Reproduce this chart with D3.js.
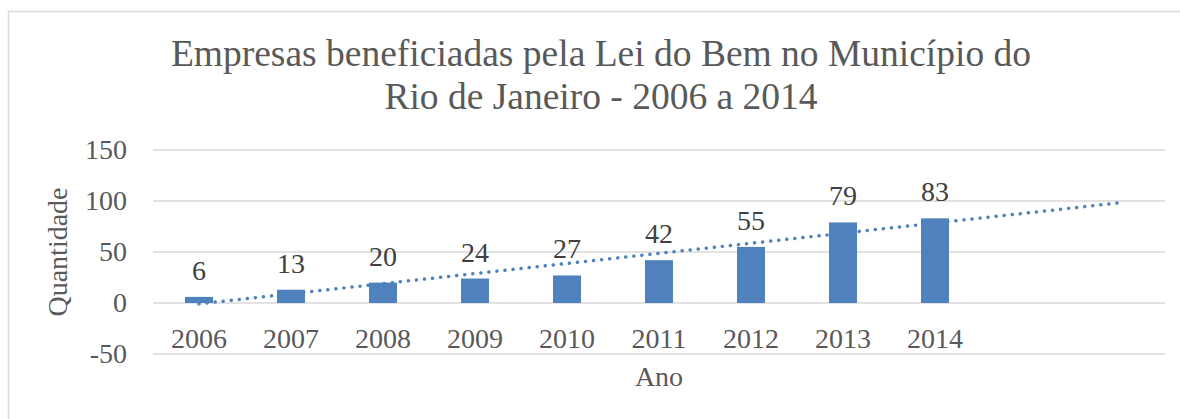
<!DOCTYPE html>
<html>
<head>
<meta charset="utf-8">
<script src="https://cdn.jsdelivr.net/npm/d3@7"></script>
<style>
  body { margin: 0; background: #fff; }
</style>
</head>
<body>
<svg id="chart" width="1180" height="419"></svg>
<script>
// data
const years = ["2006", "2007", "2008", "2009", "2010", "2011", "2012", "2013", "2014"];
const empresas = [6, 13, 20, 24, 27, 42, 55, 79, 83];
const yTicks = [-50, 0, 50, 100, 150];
const forwardPeriods = 2;

const titleLines = ["Empresas beneficiadas pela Lei do Bem no Município do", "Rio de Janeiro - 2006 a 2014"];

const serif = "Liberation Serif";
const svg = d3.select("#chart");

// outer chart border
svg.append("rect")
  .attr("x", 8.5).attr("y", 11.5)
  .attr("width", 1200).attr("height", 440)
  .attr("fill", "none").attr("stroke", "#d9d9d9").attr("stroke-width", 1.5);

const plotL = 153, plotR = 1165, plotT = 150, plotB = 354;

// categories incl. the forecast slots of the trendline
const slots = d3.range(years.length + forwardPeriods);

let xScale = d3.scaleBand()
  .domain(slots)
  .range([plotL, plotR]);

let yScale = d3.scaleLinear()
  .domain([-50, 150])
  .range([plotB, plotT]);

// gridlines
svg.append("g").selectAll("line")
  .data(yTicks)
  .enter().append("line")
  .attr("x1", plotL).attr("x2", plotR)
  .attr("y1", d => yScale(d)).attr("y2", d => yScale(d))
  .attr("stroke", "#d9d9d9").attr("stroke-width", 1.5);

// y axis labels
let yAxis = d3.axisLeft(yScale).tickValues(yTicks).tickSize(0).tickPadding(26)
  .tickFormat(d => String(d));
let yg = svg.append("g").attr("transform", "translate(" + plotL + ",0)").call(yAxis);
yg.select(".domain").remove();
yg.selectAll("text")
  .style("font-family", serif).style("font-size", "28px")
  .attr("fill", "#595959");

// bars
const barW = 28;
svg.append("g").selectAll("rect")
  .data(empresas)
  .enter().append("rect")
  .attr("x", (d, i) => xScale(i) + xScale.bandwidth() / 2 - barW / 2)
  .attr("y", d => yScale(d))
  .attr("width", barW)
  .attr("height", d => yScale(0) - yScale(d))
  .attr("fill", "#4f81bd");

// value labels
svg.append("g").selectAll("text")
  .data(empresas)
  .enter().append("text")
  .attr("x", (d, i) => xScale(i) + xScale.bandwidth() / 2)
  .attr("y", d => yScale(d) - 17)
  .attr("text-anchor", "middle")
  .style("font-family", serif).style("font-size", "28px")
  .attr("fill", "#404040")
  .text(d => d);

// category labels under the zero line
svg.append("g").selectAll("text")
  .data(years)
  .enter().append("text")
  .attr("x", (d, i) => xScale(i) + xScale.bandwidth() / 2)
  .attr("y", yScale(0) + 45)
  .attr("text-anchor", "middle")
  .style("font-family", serif).style("font-size", "28px")
  .attr("fill", "#595959")
  .text(d => d);

// linear trendline, forecast forward 2 periods
const xs = empresas.map((d, i) => i + 1);
const mx = d3.mean(xs), my = d3.mean(empresas);
const slope = d3.sum(xs, (x, i) => (x - mx) * (empresas[i] - my)) / d3.sum(xs, x => (x - mx) * (x - mx));
const icpt = my - slope * mx;
const tx = d3.scaleLinear()
  .domain([1, slots.length])
  .range([xScale(0) + xScale.bandwidth() / 2, xScale(slots.length - 1) + xScale.bandwidth() / 2]);
const trend = [1, slots.length];
svg.append("path")
  .datum(trend)
  .attr("d", d3.line().x(d => tx(d)).y(d => yScale(icpt + slope * d)))
  .attr("fill", "none")
  .attr("stroke", "#4f81bd")
  .attr("stroke-width", 3.5)
  .attr("stroke-linecap", "round")
  .attr("stroke-dasharray", "0.1 8");

// title
svg.append("g").selectAll("text")
  .data(titleLines)
  .enter().append("text")
  .attr("x", 601)
  .attr("y", (d, i) => 66 + i * 43)
  .attr("text-anchor", "middle")
  .style("font-family", serif).style("font-size", "37.5px")
  .attr("fill", "#595959")
  .text(d => d);

// axis titles
svg.append("text")
  .attr("transform", "translate(67," + (plotT + plotB) / 2 + ") rotate(-90)")
  .attr("text-anchor", "middle")
  .style("font-family", serif).style("font-size", "28px")
  .attr("fill", "#595959")
  .text("Quantidade");

svg.append("text")
  .attr("x", (plotL + plotR) / 2).attr("y", 386)
  .attr("text-anchor", "middle")
  .style("font-family", serif).style("font-size", "28px")
  .attr("fill", "#595959")
  .text("Ano");
</script>
</body>
</html>
